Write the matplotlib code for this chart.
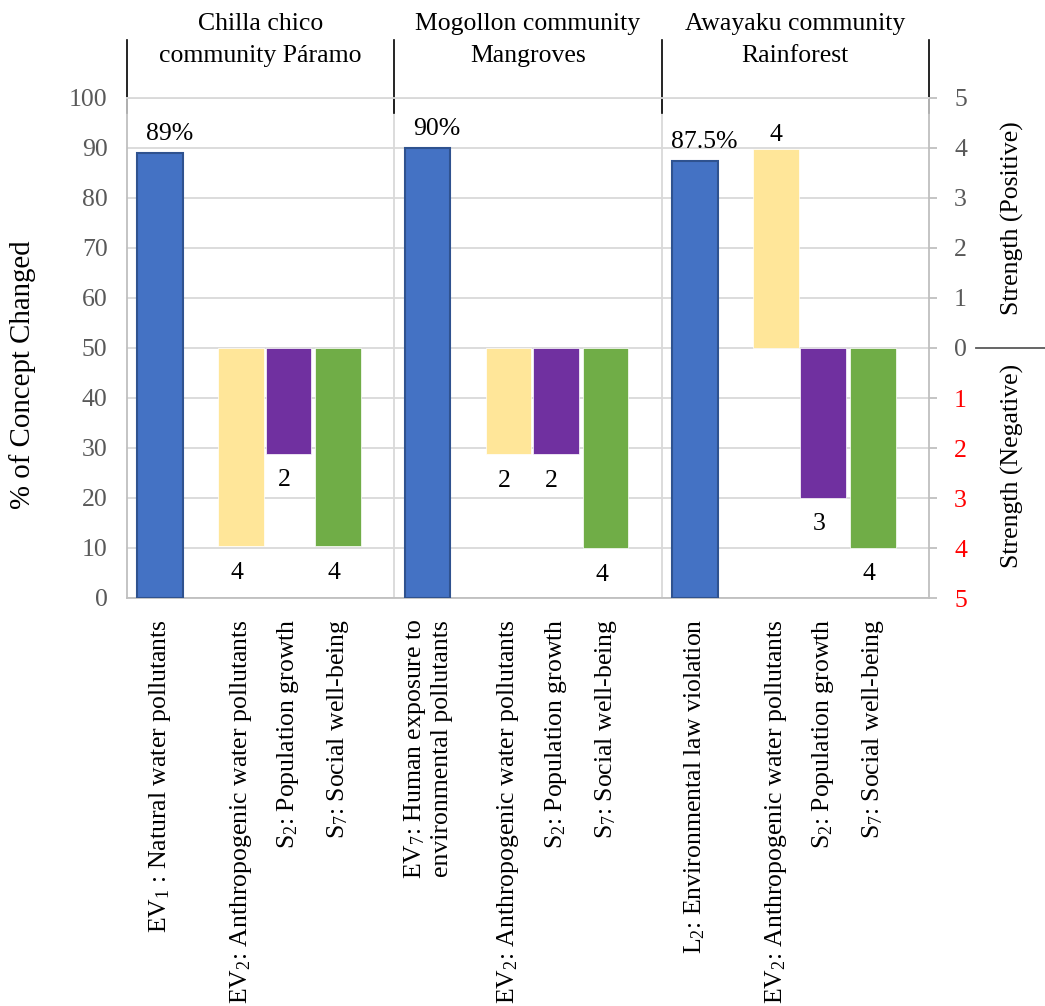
import matplotlib
matplotlib.use("Agg")
import matplotlib.pyplot as plt
from matplotlib.lines import Line2D

plt.rcParams['font.family'] = ['Liberation Serif', 'DejaVu Serif']
plt.rcParams['mathtext.default'] = 'regular'

# --- data -----------------------------------------------------------
groups = ["Chilla chico\ncommunity Páramo",
          "Mogollon community\nMangroves",
          "Awayaku community\nRainforest"]

# first bar of each group: % of concept changed
pct_labels = ["EV$_1$ : Natural water pollutants",
              "EV$_7$: Human exposure to\nenvironmental pollutants",
              "L$_2$: Environmental law violation"]
pct_values = [89, 90, 87.5]

# the three strength bars, drawn from the 50 line (= strength 0)
strength_labels = ["EV$_2$: Anthropogenic water pollutants",
                   "S$_2$: Population growth",
                   "S$_7$: Social well-being"]
# end of each floating bar on the left scale, one row per group
strength_ends = [[10.4, 28.9, 10.4],
                 [28.8, 28.8, 10.0],
                 [89.8, 20.1, 10.1]]
# strength value written next to each bar
strength_text = [["4", "2", "4"],
                 ["2", "2", "4"],
                 ["4", "3", "4"]]

left_ticks = [0, 10, 20, 30, 40, 50, 60, 70, 80, 90, 100]
right_ticks = ["5", "4", "3", "2", "1", "0", "1", "2", "3", "4", "5"]

# --- style ----------------------------------------------------------
blue, blue_edge = '#4472C4', '#2F528F'
strength_colors = ['#FFE699', '#7030A0', '#70AD47']
grey_txt = '#595959'
grid_col = '#D9D9D9'
FS = 18.5

W, H = 1045, 1006
fig = plt.figure(figsize=(W / 100, H / 100), dpi=100)
ax = fig.add_axes([127 / W, (H - 598) / H, (929 - 127) / W, 500 / H])

base = 50
bw = 0.17
offsets = [0.124, 0.427, 0.604, 0.790]

xticks, xlabels = [], []
for g in range(len(groups)):
    # blue bar
    xb = g + offsets[0]
    ax.bar(xb, pct_values[g], width=bw, color=blue, edgecolor=blue_edge,
           linewidth=1.5, zorder=3)
    ax.annotate(f"{pct_values[g]:g}%", xy=(xb, pct_values[g]), xytext=(9, 19),
                textcoords='offset pixels', ha='center', va='center',
                fontsize=FS, color='black')
    xticks.append(xb)
    xlabels.append(pct_labels[g])
    # floating strength bars
    for k in range(3):
        x = g + offsets[k + 1]
        end = strength_ends[g][k]
        ax.bar(x, end - base, bottom=base, width=bw, color=strength_colors[k],
               edgecolor='white', linewidth=0.5, zorder=3)
        if end > base:
            xy_off = (0, 14)
        else:
            xy_off = (-4, -27)
        ax.annotate(strength_text[g][k], xy=(x, end), xytext=xy_off,
                    textcoords='offset pixels', ha='center', va='center',
                    fontsize=FS, color='black')
        xticks.append(x)
        xlabels.append(strength_labels[k])

ax.set_xlim(0, len(groups))
ax.set_ylim(0, 100)
ax.set_yticks(left_ticks)
ax.set_yticklabels([str(t) for t in left_ticks], fontsize=FS, color=grey_txt)
ax.tick_params(axis='y', length=0, pad=14)
ax.set_xticks(xticks)
ax.set_xticklabels(xlabels, rotation=90, fontsize=FS, ha='center', va='top',
                   multialignment='center')
ax.tick_params(axis='x', length=0, pad=15)

ax.yaxis.grid(True, color=grid_col, linewidth=1.3, zorder=0)
for xs in range(1, len(groups)):
    ax.axvline(xs, color=grid_col, linewidth=1.3, zorder=0)
for s in ax.spines.values():
    s.set_color('#BFBFBF')
    s.set_linewidth(1.3)
ax.spines['top'].set_color(grid_col)
ax.set_axisbelow(True)

# right axis: strength scale
ax2 = ax.twinx()
ax2.set_ylim(0, 100)
ax2.set_yticks(left_ticks)
ax2.set_yticklabels(right_ticks, fontsize=FS)
for t, val in zip(ax2.get_yticklabels(), left_ticks):
    t.set_color('red' if val < base else grey_txt)
ax2.tick_params(axis='y', direction='out', length=6, width=1.3,
                color='#BFBFBF', pad=12)
for s in ax2.spines.values():
    s.set_visible(False)

# group headers with black separators
trans = ax.get_xaxis_transform()
for xs in range(len(groups) + 1):
    ax.plot([xs, xs], [0.97, 1.116], transform=trans, color='black',
            linewidth=1.2, clip_on=False)
for g, name in enumerate(groups):
    ax.text(g + 0.5, 1.116, name, transform=trans, ha='center', va='center',
            fontsize=FS, linespacing=1.55)

fig.text(23 / W, 1 - 375 / H, "% of Concept Changed", rotation=90,
         ha='center', va='center', fontsize=20.8)
fig.text(1012 / W, 1 - 218 / H, "Strength (Positive)", rotation=90,
         ha='center', va='center', fontsize=FS)
fig.text(1012 / W, 1 - 466 / H, "Strength (Negative)", rotation=90,
         ha='center', va='center', fontsize=FS)
fig.add_artist(Line2D([976 / W, 1.0], [1 - 348 / H, 1 - 348 / H],
                      color=grey_txt, linewidth=1.3))

fig.savefig("out.png", dpi=100)
